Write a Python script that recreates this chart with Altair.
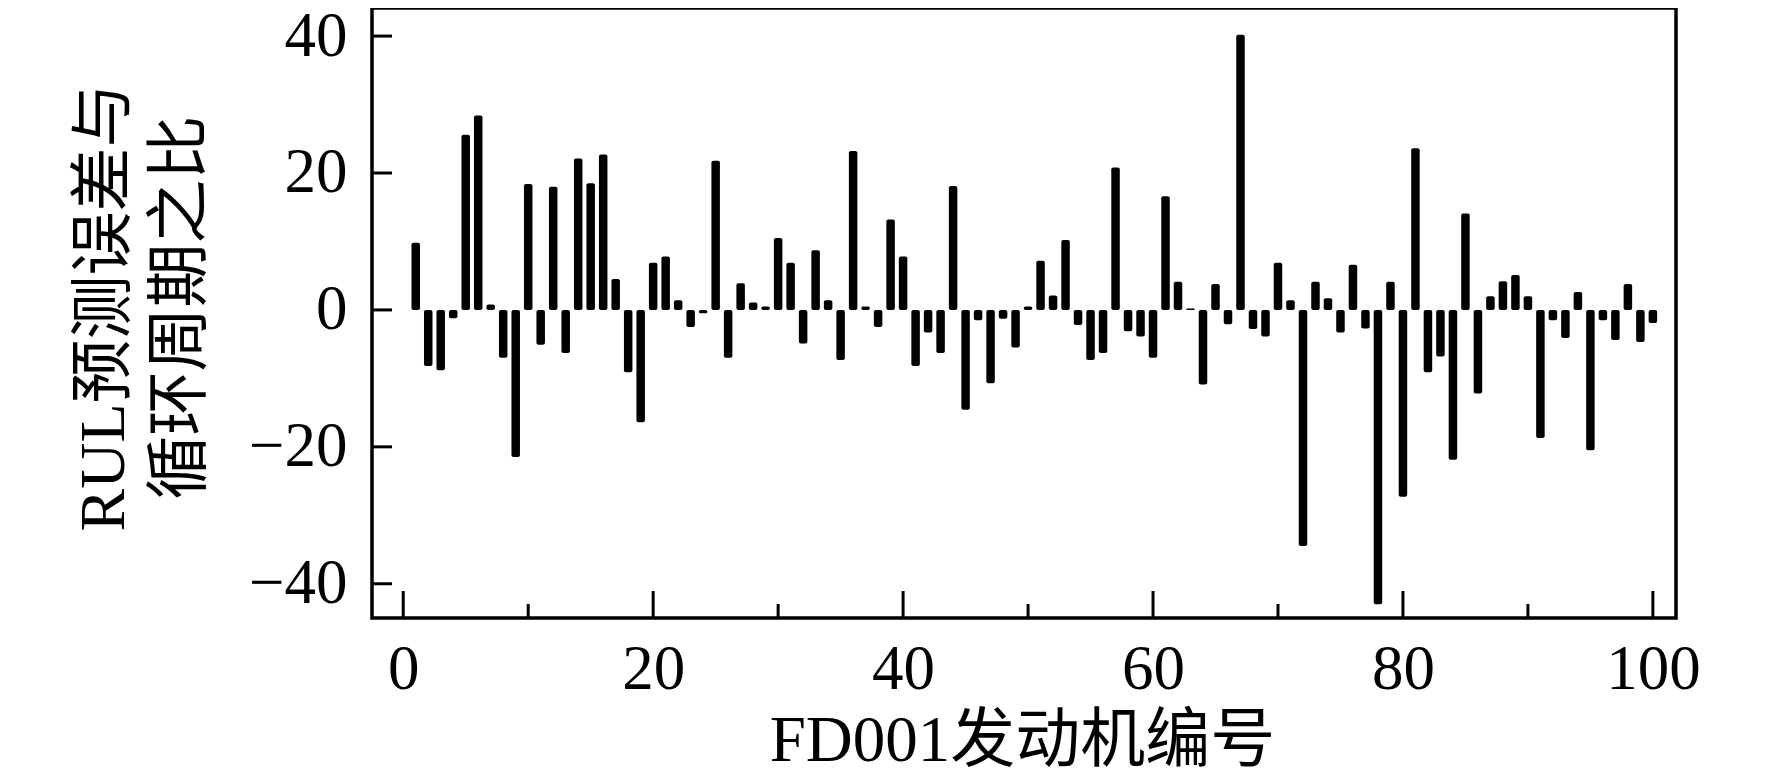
import altair as alt
import pandas as pd

# ---- data ----
engines = list(range(1, 101))
ratio = [
    9.8, -8.2, -8.8, -1.2, 25.6, 28.4, 0.8, -7.0, -21.5, 18.4,
    -5.1, 18.0, -6.3, 22.1, 18.5, 22.7, 4.5, -9.1, -16.4, 6.9,
    7.8, 1.4, -2.5, -0.5, 21.8, -7.0, 3.9, 1.1, 0.5, 10.5,
    6.9, -4.9, 8.7, 1.4, -7.3, 23.2, 0.5, -2.5, 13.2, 7.8,
    -8.2, -3.3, -6.3, 18.1, -14.6, -1.5, -10.7, -1.3, -5.5, 0.5,
    7.2, 2.1, 10.2, -2.2, -7.3, -6.3, 20.8, -3.1, -3.9, -7.0,
    16.6, 4.1, 0.2, -10.9, 3.8, -2.1, 40.2, -2.8, -3.9, 6.9,
    1.4, -34.5, 4.1, 1.7, -3.3, 6.6, -2.7, -43.0, 4.1, -27.3,
    23.6, -9.1, -6.8, -21.9, 14.1, -12.2, 2.0, 4.2, 5.1, 2.0,
    -18.7, -1.5, -4.1, 2.6, -20.5, -1.5, -4.4, 3.8, -4.7, -1.9,
]
y_ticks = [-40, -20, 0, 20, 40]
x_major = [0, 20, 40, 60, 80, 100]
x_minor = [10, 30, 50, 70, 90]
x_title = "FD001发动机编号"
y_title = ["RUL预测误差与", "循环周期之比"]

FONT = "Liberation Serif, Noto Sans CJK SC"
W, H = 1304, 610
xscale = alt.Scale(domain=[-2.1, 101.45], nice=False, zero=False)
yscale = alt.Scale(domain=[-45, 44.1], nice=False, zero=False)

x_axis = alt.Axis(
    values=x_major, title=x_title, domain=False, ticks=False, grid=False,
    labelFont=FONT, labelFontSize=63, labelColor="black", labelPadding=20,
    labelFlush=False, labelOverlap=False,
    titleFont=FONT, titleFontSize=65, titleFontWeight="normal", titleColor="black",
    titleX=650, titleY=91, titleBaseline="top", titleAlign="center",
)
y_axis = alt.Axis(
    values=y_ticks, title=y_title, domain=False, ticks=False, grid=False,
    labelFont=FONT, labelFontSize=63, labelColor="black", labelPadding=25,
    labelFlush=False, labelOverlap=False,
    titleFont=FONT, titleFontSize=64, titleFontWeight="normal", titleColor="black",
    titleAngle=270, titleX=-268, titleY=299, titleBaseline="middle",
    titleAlign="center", titleLineHeight=76,
)

bars_df = pd.DataFrame({"engine": engines, "ratio": ratio})

bars = alt.Chart(bars_df).mark_bar(size=8.5, color="black", cornerRadius=2).encode(
    x=alt.X("engine:Q", scale=xscale, axis=x_axis),
    y=alt.Y("ratio:Q", scale=yscale, axis=y_axis),
    y2=alt.datum(0),
)

yt = alt.Chart(pd.DataFrame({"ratio": y_ticks})).mark_rule(color="black", strokeWidth=3).encode(
    y=alt.Y("ratio:Q", scale=yscale, axis=y_axis), x=alt.value(0), x2=alt.value(20)
)
xt_major = alt.Chart(pd.DataFrame({"engine": x_major})).mark_rule(color="black", strokeWidth=3).encode(
    x=alt.X("engine:Q", scale=xscale, axis=x_axis), y=alt.value(H), y2=alt.value(H - 27)
)
xt_minor = alt.Chart(pd.DataFrame({"engine": x_minor})).mark_rule(color="black", strokeWidth=3).encode(
    x=alt.X("engine:Q", scale=xscale, axis=x_axis), y=alt.value(H), y2=alt.value(H - 14)
)

chart = (
    alt.layer(bars, yt, xt_major, xt_minor)
    .properties(
        width=W, height=H,
        padding={"left": 364, "top": 0, "right": 80, "bottom": 163},
        autosize=alt.AutoSizeParams(type="none"),
        background="white",
    )
    .configure_view(stroke="black", strokeWidth=3.5)
)

chart.save("out.html", embed_options={"renderer": "svg", "actions": False})
